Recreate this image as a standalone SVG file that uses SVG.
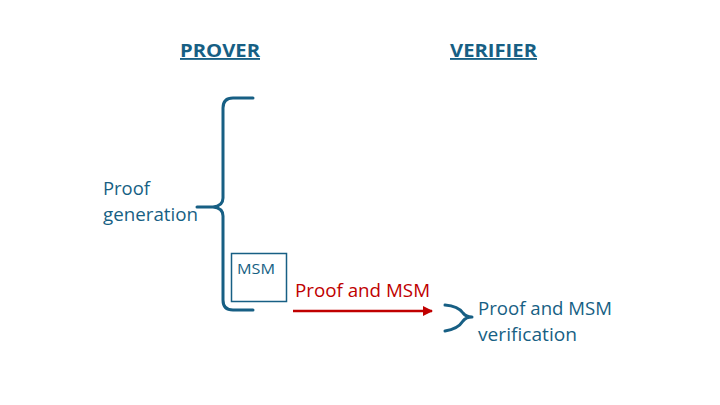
<svg xmlns="http://www.w3.org/2000/svg" width="720" height="405" viewBox="0 0 720 405">
<defs>
<style>
.t{font-family:"Open Sans","Noto Sans",sans-serif;fill:#175f84;font-size:17.5px;}
.h{font-family:"Open Sans","Noto Sans",sans-serif;font-weight:bold;fill:#175f84;font-size:18.5px;text-decoration:underline;}
.br{fill:none;stroke:#175f84;stroke-width:3;stroke-linecap:round;stroke-linejoin:round;}
</style>
<marker id="ah" viewBox="0 0 10 10" refX="9" refY="5" markerWidth="4" markerHeight="4" orient="auto" markerUnits="strokeWidth">
<path d="M0,0 L10,5 L0,10 z" fill="#c00000"/>
</marker>
</defs>
<rect width="720" height="405" fill="#ffffff"/>
<g id="prover-title"><text class="h" x="180" y="57" textLength="80" lengthAdjust="spacingAndGlyphs">PROVER</text></g>
<g id="verifier-title"><text class="h" x="450" y="57" textLength="87" lengthAdjust="spacingAndGlyphs">VERIFIER</text></g>
<g id="proof-generation">
<path class="br" d="M253,98 L233,98 Q223,98 223,108 L223,198 Q223,206 213,207 L197,207 L213,207 Q223,208 223,216 L223,300 Q223,310 233,310 L253,310"/>
<text class="t" x="103" y="195" textLength="47" lengthAdjust="spacingAndGlyphs">Proof</text>
<text class="t" x="103" y="221" textLength="95" lengthAdjust="spacingAndGlyphs">generation</text>
</g>
<g id="msm">
<rect x="231.5" y="253.5" width="55" height="48" fill="none" stroke="#175f84" stroke-width="1.5"/>
<text class="t" style="font-size:15px" x="237" y="273.5" textLength="38" lengthAdjust="spacingAndGlyphs">MSM</text>
</g>
<g id="verification">
<path class="br" d="M445,305 Q458,306 463,313 Q466,317 472,317 Q466,317 463,321 Q458,329 445,331"/>
<text class="t" x="478" y="315" textLength="134" lengthAdjust="spacingAndGlyphs">Proof and MSM</text>
<text class="t" x="478" y="341" textLength="99" lengthAdjust="spacingAndGlyphs">verification</text>
</g>
<g id="connectors">
<line x1="293" y1="311" x2="432" y2="311" stroke="#c00000" stroke-width="2.5" marker-end="url(#ah)"/>
<text font-family="'Open Sans','Noto Sans',sans-serif" font-size="17.5" fill="#c00000" x="295" y="297" textLength="135" lengthAdjust="spacingAndGlyphs">Proof and MSM</text>
</g>
</svg>
